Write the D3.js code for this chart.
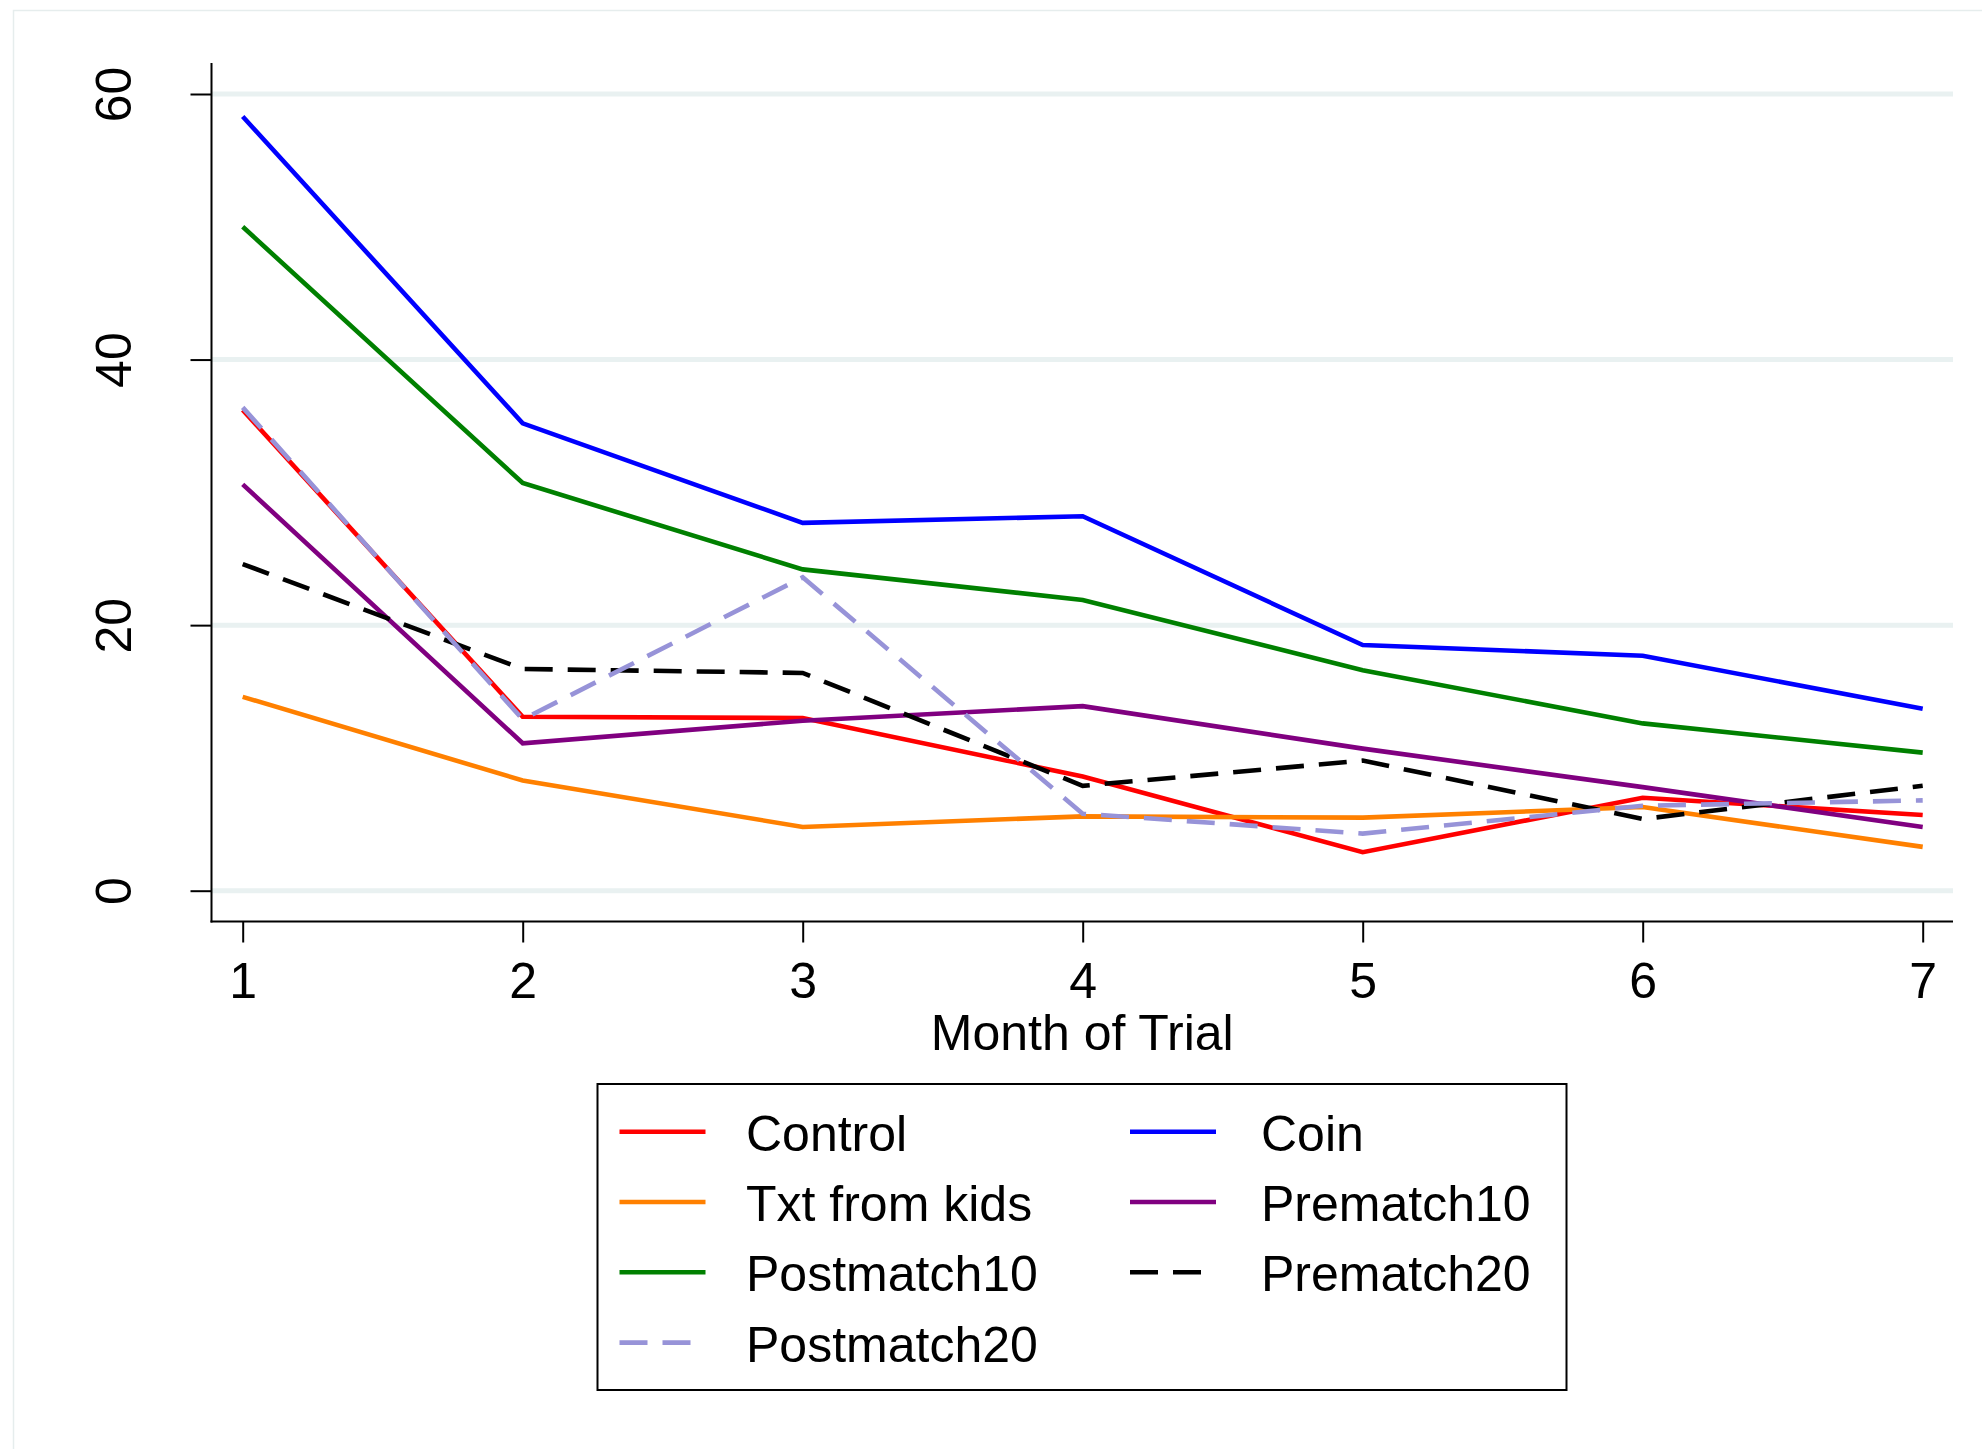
<!DOCTYPE html>
<html>
<head>
<meta charset="utf-8">
<script src="https://cdn.jsdelivr.net/npm/d3@7"></script>
<style>
  html, body { margin: 0; padding: 0; background: #fff; }
  svg { display: block; font-family: "Liberation Sans", Arial, sans-serif; }
</style>
</head>
<body>
<div id="chart"></div>
<script>
// data
const months = [1, 2, 3, 4, 5, 6, 7];
const yTicks = [0, 20, 40, 60];
const xTitle = "Month of Trial";

const control     = [36.2, 13.1, 13.0, 8.6, 2.9, 7.0, 5.7];
const coin        = [58.3, 35.2, 27.7, 28.2, 18.5, 17.7, 13.7];
const txtFromKids = [14.6, 8.3, 4.8, 5.6, 5.5, 6.3, 3.3];
const prematch10  = [30.6, 11.1, 12.8, 13.9, 10.7, 7.8, 4.8];
const postmatch10 = [50.0, 30.7, 24.2, 21.9, 16.6, 12.6, 10.4];
const prematch20  = [24.6, 16.7, 16.4, 7.9, 9.8, 5.4, 7.9];
const postmatch20 = [36.4, 12.9, 23.6, 5.8, 4.3, 6.4, 6.8];

// legend / draw order (Stata, two columns, row by row)
const series = [
  { name: "Control", values: control },
  { name: "Coin", values: coin },
  { name: "Txt from kids", values: txtFromKids },
  { name: "Prematch10", values: prematch10 },
  { name: "Postmatch10", values: postmatch10 },
  { name: "Prematch20", values: prematch20 },
  { name: "Postmatch20", values: postmatch20 }
];

const styles = {
  "Control":       { color: "#ff0000", dash: null },
  "Coin":          { color: "#0000ff", dash: null },
  "Txt from kids": { color: "#ff8000", dash: null },
  "Prematch10":    { color: "#800080", dash: null },
  "Postmatch10":   { color: "#008000", dash: null },
  "Prematch20":    { color: "#000000", dash: "28,15" },
  "Postmatch20":   { color: "#9793d8", dash: "28,15" }
};

const W = 1982, H = 1449;
const fontSize = 50;

const svg = d3.select("#chart").append("svg")
  .attr("width", W)
  .attr("height", H);

// faint outer frame
svg.append("rect")
  .attr("x", 13.5).attr("y", 10.5)
  .attr("width", W).attr("height", H)
  .attr("fill", "none")
  .attr("stroke", "#e6eded")
  .attr("stroke-width", 1.5);

// scales
const x = d3.scaleLinear().domain([1, 7]).range([242.7, 1922.7]);
const y = d3.scaleLinear().domain([0, 60]).range([890.7, 94]);

const axisLeftX = 211.5, axisBottomY = 921.5;
const plotRight = 1953, plotTop = 63;

// gridlines
svg.append("g")
  .selectAll("line")
  .data(yTicks)
  .enter()
  .append("line")
  .attr("x1", axisLeftX)
  .attr("x2", plotRight)
  .attr("y1", d => y(d))
  .attr("y2", d => y(d))
  .attr("stroke", "#e9f1f1")
  .attr("stroke-width", 5);

// series lines
const line = d3.line()
  .x((d, i) => x(months[i]))
  .y(d => y(d));

svg.append("g")
  .selectAll("path")
  .data(series)
  .enter()
  .append("path")
  .attr("fill", "none")
  .attr("stroke", d => styles[d.name].color)
  .attr("stroke-width", 4.6)
  .attr("stroke-linejoin", "miter")
  .attr("stroke-dasharray", d => styles[d.name].dash)
  .attr("d", d => line(d.values));

// y axis
const yAxis = svg.append("g")
  .attr("transform", `translate(${axisLeftX},0)`)
  .call(d3.axisLeft(y).tickValues(yTicks).tickSize(21).tickPadding(0).tickSizeOuter(0));
yAxis.select(".domain").remove();
yAxis.selectAll(".tick line").attr("stroke", "#000").attr("stroke-width", 2);
yAxis.selectAll(".tick text")
  .attr("x", null).attr("dy", null)
  .attr("text-anchor", "middle")
  .attr("transform", "translate(-81,0) rotate(-90)")
  .style("font-size", fontSize + "px")
  .attr("fill", "#000");

// x axis
const xAxis = svg.append("g")
  .attr("transform", `translate(0,${axisBottomY})`)
  .call(d3.axisBottom(x).tickValues(months).tickFormat(d3.format("d")).tickSize(21).tickSizeOuter(0));
xAxis.select(".domain").remove();
xAxis.selectAll(".tick line").attr("stroke", "#000").attr("stroke-width", 2);
xAxis.selectAll(".tick text")
  .attr("y", 76).attr("dy", null)
  .style("font-size", fontSize + "px")
  .attr("fill", "#000");

// axis lines
svg.append("line")
  .attr("x1", axisLeftX).attr("x2", axisLeftX)
  .attr("y1", plotTop).attr("y2", axisBottomY + 1)
  .attr("stroke", "#000").attr("stroke-width", 2);
svg.append("line")
  .attr("x1", axisLeftX - 1).attr("x2", plotRight)
  .attr("y1", axisBottomY).attr("y2", axisBottomY)
  .attr("stroke", "#000").attr("stroke-width", 2);

// axis title
svg.append("text")
  .attr("x", (axisLeftX + plotRight) / 2)
  .attr("y", 1050)
  .attr("text-anchor", "middle")
  .style("font-size", fontSize + "px")
  .text(xTitle);

// legend
const legend = svg.append("g");
legend.append("rect")
  .attr("x", 597.5).attr("y", 1084)
  .attr("width", 969).attr("height", 306)
  .attr("fill", "#fff")
  .attr("stroke", "#000")
  .attr("stroke-width", 2);

const keyX = [619.5, 1130];
const labelX = [746, 1261];
const rowY0 = 1131.7, rowStep = 70.3;

const items = legend.selectAll("g.item")
  .data(series)
  .enter()
  .append("g")
  .attr("class", "item")
  .attr("transform", (d, i) => `translate(0,${rowY0 + Math.floor(i / 2) * rowStep})`);

items.append("line")
  .attr("x1", (d, i) => keyX[i % 2])
  .attr("x2", (d, i) => keyX[i % 2] + 86)
  .attr("y1", 0).attr("y2", 0)
  .attr("stroke", d => styles[d.name].color)
  .attr("stroke-width", 4.6)
  .attr("stroke-dasharray", d => styles[d.name].dash);

items.append("text")
  .attr("x", (d, i) => labelX[i % 2])
  .attr("y", 19)
  .style("font-size", fontSize + "px")
  .attr("fill", "#000")
  .text(d => d.name);
</script>
</body>
</html>
